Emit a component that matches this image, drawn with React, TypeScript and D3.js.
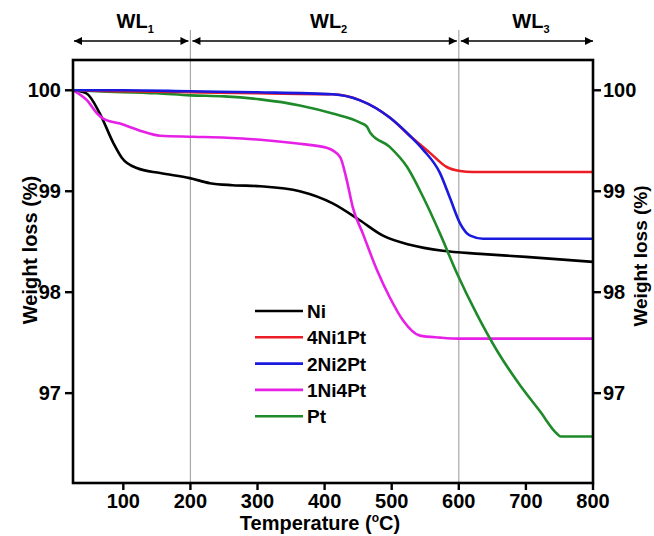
import React from "react";
import * as d3 from "d3";

const W = 654;
const H = 536;

const xTicks = [100, 200, 300, 400, 500, 600, 700, 800];
const yTicks = [97, 98, 99, 100];
const regionBounds = [25, 200, 600, 800];
const regionLabels = ["1", "2", "3"];

const niT = [25, 45, 65, 85, 98, 120, 155, 199, 229, 263, 304, 363, 412, 453, 487, 527, 576, 632, 700, 800];
const niV = [100, 99.97, 99.77, 99.48, 99.33, 99.23, 99.18, 99.13, 99.08, 99.06, 99.05, 99.0, 98.88, 98.71, 98.56, 98.47, 98.41, 98.38, 98.35, 98.3];

const redT = [25, 100, 200, 300, 412, 453, 497, 527, 557, 582, 602, 620, 700, 800];
const redV = [100, 99.99, 99.98, 99.97, 99.96, 99.9, 99.73, 99.55, 99.38, 99.24, 99.2, 99.19, 99.19, 99.19];

const blueT = [25, 100, 200, 300, 412, 453, 497, 527, 547, 572, 587, 602, 617, 636, 660, 800];
const blueV = [100, 100, 99.99, 99.98, 99.96, 99.9, 99.73, 99.55, 99.41, 99.18, 98.93, 98.68, 98.56, 98.53, 98.53, 98.53];

const magT = [25, 46, 61, 70, 95, 125, 155, 204, 254, 304, 363, 403, 423, 433, 442, 457, 478, 497, 517, 542, 572, 600, 800];
const magV = [100, 99.9, 99.77, 99.72, 99.67, 99.6, 99.55, 99.54, 99.53, 99.51, 99.47, 99.43, 99.34, 99.11, 98.84, 98.58, 98.22, 97.95, 97.72, 97.57, 97.55, 97.54, 97.54];

const ptT = [25, 60, 150, 200, 250, 304, 363, 412, 453, 463, 468, 497, 523, 547, 572, 597, 627, 657, 691, 721, 746, 752, 800];
const ptV = [100, 99.99, 99.97, 99.95, 99.94, 99.91, 99.85, 99.77, 99.68, 99.64, 99.58, 99.44, 99.24, 98.94, 98.58, 98.19, 97.78, 97.42, 97.08, 96.82, 96.6, 96.57, 96.57];

const seriesNames = ["Ni", "4Ni1Pt", "2Ni2Pt", "1Ni4Pt", "Pt"];
const seriesColors = ["#000000", "#ee1c24", "#1a1adf", "#e620e6", "#1f8a2a"];
const seriesT = [niT, redT, blueT, magT, ptT];
const seriesV = [niV, redV, blueV, magV, ptV];
// draw order: Ni, 1Ni4Pt, Pt, red, blue
const drawOrder = [0, 3, 4, 1, 2];

const FONT = "'Liberation Sans', Arial, Helvetica, sans-serif";

export default function App() {
  const left = 73, right = 593, top = 60, bottom = 483;
  const x = d3.scaleLinear().domain([25, 800]).range([left, right]);
  const y = d3.scaleLinear().domain([96.11, 100.3]).range([bottom, top]);

  const line = d3
    .line<[number, number]>()
    .x((d) => x(d[0]))
    .y((d) => y(d[1]))
    .curve(d3.curveMonotoneX);

  const arrowY = 41;
  const legendX0 = 255, legendX1 = 303, legendY0 = 311, legendDy = 26.3;

  return (
    <svg
      width={W}
      height={H}
      style={{ position: "absolute", left: 0, top: 0, background: "#fff" }}
      fontFamily={FONT}
      fontWeight="bold"
    >
      <defs>
        <marker id="ah" viewBox="0 0 10 10" refX="10" refY="5" markerWidth="10" markerHeight="8" markerUnits="userSpaceOnUse" orient="auto-start-reverse">
          <path d="M0,0 L10,5 L0,10 z" fill="#000" />
        </marker>
      </defs>
      <rect width={W} height={H} fill="#fff" />

      {/* region separators */}
      {[200, 600].map((t) => (
        <line key={t} x1={x(t)} x2={x(t)} y1={30} y2={bottom} stroke="#a8a8a8" strokeWidth={1.2} />
      ))}

      {/* region arrows */}
      {regionLabels.map((lab, i) => {
        const a = x(regionBounds[i]) + (i === 0 ? 1 : 2);
        const b = x(regionBounds[i + 1]) - (i === 2 ? 0 : 2);
        const cx = (a + b) / 2 + 4;
        return (
          <g key={lab}>
            <line x1={a} x2={b} y1={arrowY} y2={arrowY} stroke="#000" strokeWidth={1.4} markerStart="url(#ah)" markerEnd="url(#ah)" />
            <text x={cx} y={28} textAnchor="middle" fontSize={20}>
              WL<tspan fontSize={11} dy={5}>{lab}</tspan>
            </text>
          </g>
        );
      })}

      {/* curves */}
      {drawOrder.map((i) => (
        <path
          key={seriesNames[i]}
          d={line(seriesT[i].map((t, k) => [t, seriesV[i][k]] as [number, number])) || ""}
          fill="none"
          stroke={seriesColors[i]}
          strokeWidth={2.6}
        />
      ))}

      {/* frame */}
      <rect x={left} y={top} width={right - left} height={bottom - top} fill="none" stroke="#000" strokeWidth={2.6} />

      {/* x ticks */}
      {xTicks.map((t) => (
        <g key={t}>
          <line x1={x(t)} x2={x(t)} y1={bottom} y2={bottom + 7} stroke="#000" strokeWidth={2.4} />
          <text x={x(t)} y={508} textAnchor="middle" fontSize={20}>{t}</text>
        </g>
      ))}

      {/* y ticks left/right */}
      {yTicks.map((v) => (
        <g key={v}>
          <line x1={left - 8} x2={left} y1={y(v)} y2={y(v)} stroke="#000" strokeWidth={2.4} />
          <text x={left - 12} y={y(v) + 7} textAnchor="end" fontSize={20}>{v}</text>
          <line x1={right} x2={right + 8} y1={y(v)} y2={y(v)} stroke="#000" strokeWidth={2.4} />
          <text x={right + 10} y={y(v) + 7} textAnchor="start" fontSize={20}>{v}</text>
        </g>
      ))}

      {/* axis titles */}
      <text transform={`translate(37,250) rotate(-90)`} textAnchor="middle" fontSize={20}>Weight loss (%)</text>
      <text transform={`translate(647,256) rotate(-90)`} textAnchor="middle" fontSize={19}>Weight loss (%)</text>
      <text x={320} y={530} textAnchor="middle" fontSize={20}>
        Temperature (<tspan fontSize={12} dy={-8}>o</tspan><tspan dy={8}>C)</tspan>
      </text>

      {/* legend */}
      {seriesNames.map((n, i) => (
        <g key={n}>
          <line x1={legendX0} x2={legendX1} y1={legendY0 + i * legendDy} y2={legendY0 + i * legendDy} stroke={seriesColors[i]} strokeWidth={2.6} />
          <text x={legendX1 + 4} y={legendY0 + i * legendDy + 7} fontSize={19}>{n}</text>
        </g>
      ))}
    </svg>
  );
}
